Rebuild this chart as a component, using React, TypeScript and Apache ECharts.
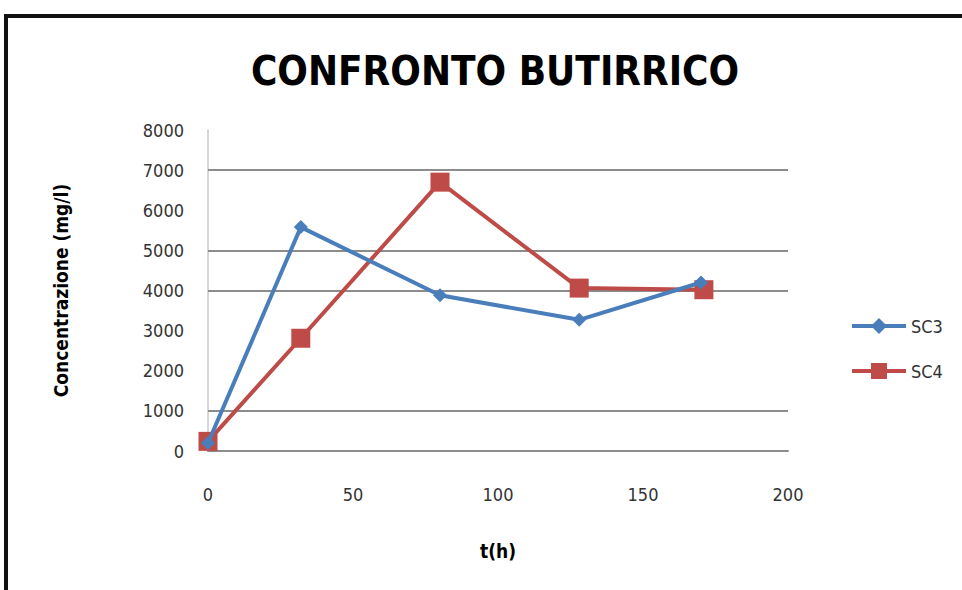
import React, { useEffect, useRef } from "react";
import * as echarts from "echarts";

const titleText = "CONFRONTO BUTIRRICO";
const xName = "t(h)";
const yName = "Concentrazione (mg/l)";
const seriesNames = ["SC3", "SC4"];
const sc3: [number, number][] = [
  [0, 200],
  [32, 5580],
  [80, 3880],
  [128, 3270],
  [170, 4200],
];
const sc4: [number, number][] = [
  [0, 240],
  [32, 2810],
  [80, 6700],
  [128, 4060],
  [171, 4020],
];
const visibleGridValues = [1000, 4000, 5000, 7000];

const FONT = "'DejaVu Sans Condensed', 'Liberation Sans', sans-serif";

export default function App() {
  const ref = useRef<HTMLDivElement>(null);
  useEffect(() => {
    const chart = echarts.init(ref.current!, undefined, { renderer: "svg" });
    chart.setOption({
      animation: false,
      backgroundColor: "#ffffff",
      title: {
        text: titleText,
        left: 490,
        top: 46,
        textAlign: "center",
        textStyle: { fontFamily: FONT, fontSize: 40, fontWeight: "bold", color: "#000" },
      },
      graphic: [
        { type: "line", shape: { x1: 4, y1: 16, x2: 962, y2: 16 }, style: { stroke: "#111", lineWidth: 4 } },
        { type: "line", shape: { x1: 6, y1: 16, x2: 6, y2: 590 }, style: { stroke: "#111", lineWidth: 4 } },
      ],
      legend: {
        orient: "vertical",
        left: 845,
        top: 312,
        itemWidth: 54,
        itemHeight: 20,
        itemGap: 27,
        data: seriesNames,
        lineStyle: { width: 4 },
        textStyle: { fontFamily: FONT, fontSize: 18, color: "#333" },
      },
      grid: { left: 208, right: 174, top: 130, bottom: 139 },
      xAxis: {
        type: "value",
        min: 0,
        max: 200,
        interval: 50,
        name: xName,
        nameLocation: "middle",
        nameGap: 90,
        nameTextStyle: { fontFamily: FONT, fontSize: 19, fontWeight: "bold", color: "#000" },
        axisLine: { lineStyle: { color: "#8c8c8c", width: 2 } },
        axisTick: { show: false },
        splitLine: { show: false },
        axisLabel: { margin: 34, fontFamily: FONT, fontSize: 18, color: "#333" },
      },
      yAxis: {
        type: "value",
        min: 0,
        max: 8000,
        interval: 1000,
        name: yName,
        nameLocation: "middle",
        nameGap: 138,
        nameTextStyle: { fontFamily: FONT, fontSize: 19, fontWeight: "bold", color: "#000" },
        axisLine: { show: true, lineStyle: { color: "#c8c8c8", width: 1.5 } },
        axisTick: { show: false },
        splitLine: { show: false },
        axisLabel: {
          margin: 24,
          fontFamily: FONT,
          fontSize: 18,
          color: "#333",
          formatter: (v: number) => String(v),
        },
      },
      series: [
        {
          name: seriesNames[0],
          type: "line",
          data: sc3,
          symbol: "diamond",
          symbolSize: 14,
          lineStyle: { color: "#4A7EBB", width: 4 },
          itemStyle: { color: "#4A7EBB" },
          z: 3,
          markLine: {
            silent: true,
            symbol: "none",
            label: { show: false },
            lineStyle: { color: "#8c8c8c", width: 2, type: "solid" },
            data: visibleGridValues.map((v) => ({ yAxis: v })),
            z: 1,
          },
        },
        {
          name: seriesNames[1],
          type: "line",
          data: sc4,
          symbol: "rect",
          symbolSize: 19,
          lineStyle: { color: "#BE4B48", width: 4 },
          itemStyle: { color: "#BE4B48" },
          z: 2,
        },
      ],
    });
    return () => chart.dispose();
  }, []);
  return <div ref={ref} style={{ width: 962, height: 590, position: "absolute", left: 0, top: 0 }} />;
}
